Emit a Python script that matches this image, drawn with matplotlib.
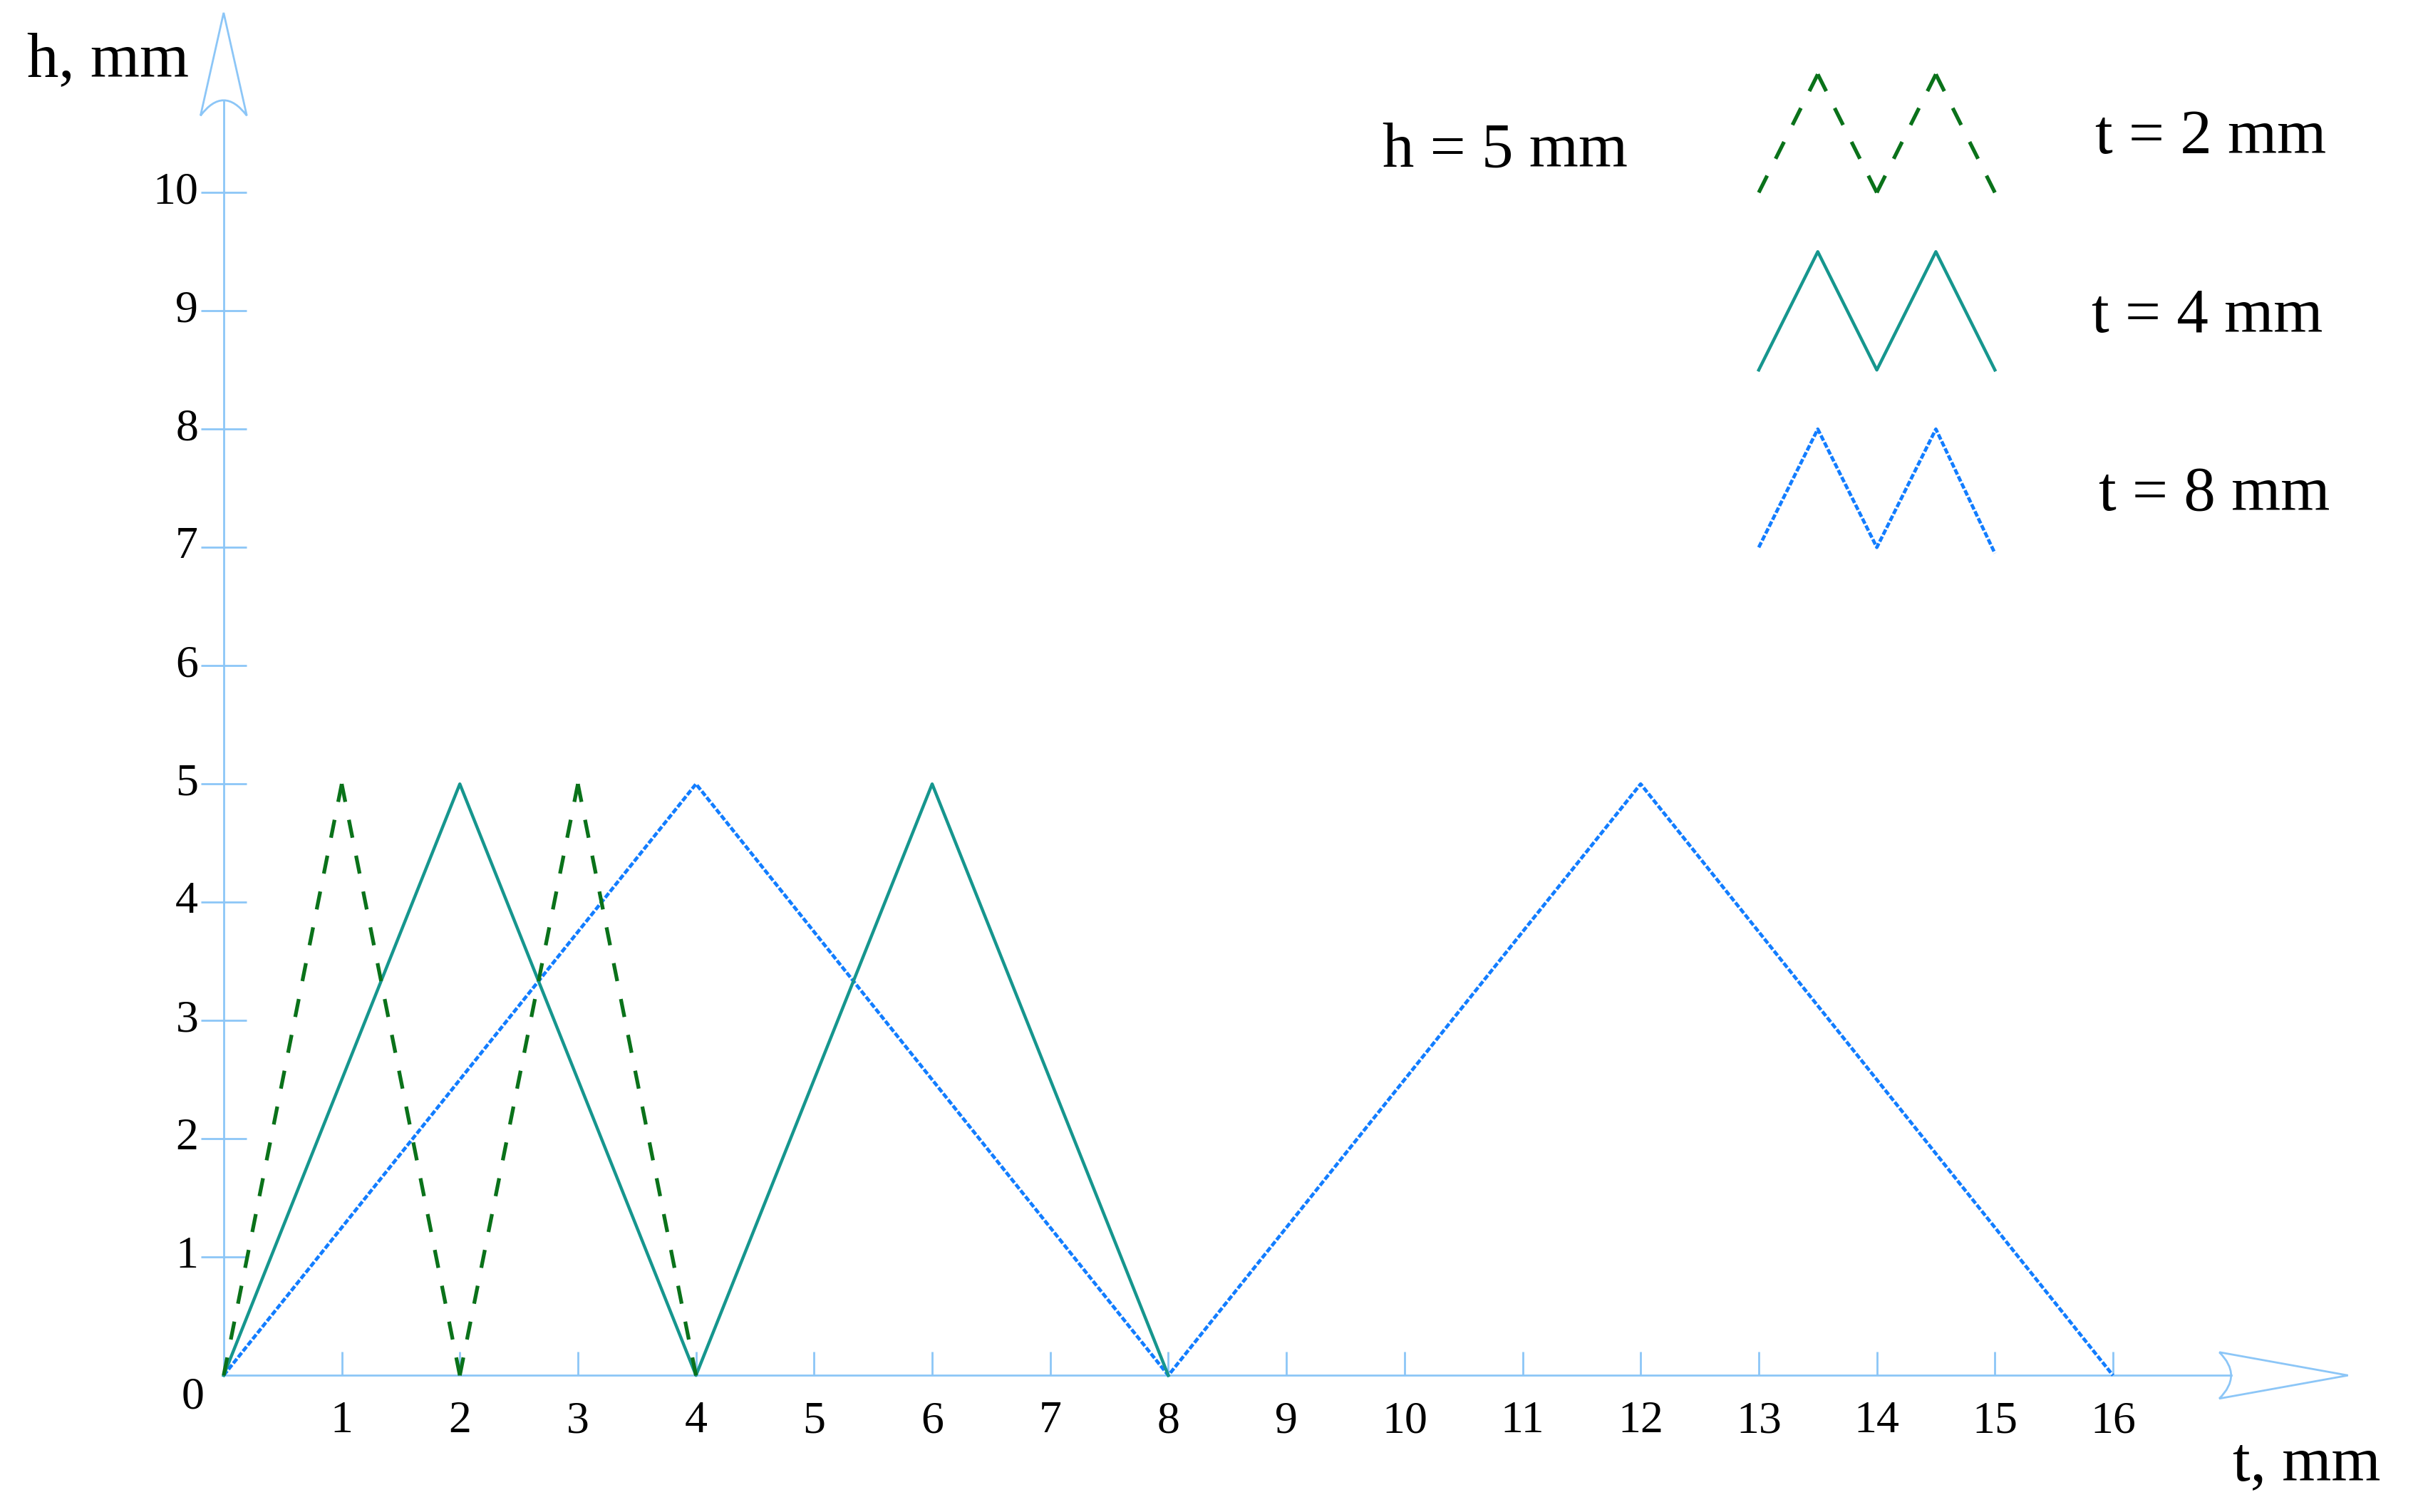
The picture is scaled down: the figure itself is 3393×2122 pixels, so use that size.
#!/usr/bin/env python3
"""
Triangular wave profiles h(t) for three pitch values t = 2, 4, 8 mm
(amplitude h = 5 mm), drawn on hand-made arrowed axes.
"""
import matplotlib.pyplot as plt
from matplotlib.patches import PathPatch
from matplotlib.path import Path

# ─────────────────────────────────────────────
# DATA
# ─────────────────────────────────────────────

T2_X = [0, 1, 2, 3, 4]
T2_Y = [0, 5, 0, 5, 0]

T4_X = [0, 2, 4, 6, 8]
T4_Y = [0, 5, 0, 5, 0]

T8_X = [0, 4, 8, 12, 16]
T8_Y = [0, 5, 0, 5, 0]

X_TICKS = list(range(1, 17))
Y_TICKS = list(range(1, 11))

SERIES_LABELS = ["t = 2 mm", "t = 4 mm", "t = 8 mm"]
AMPLITUDE_LABEL = "h = 5 mm"

# legend zig-zag icons (drawn in data space, top right)
ICON_X = [13, 13.5, 14, 14.5, 15]
ICON_Y_T2 = [10, 11, 10, 11, 10]
ICON_Y_T4 = [8.5, 9.5, 8.5, 9.5, 8.5]
ICON_Y_T8 = [7, 8, 7, 8, 6.95]

# ─────────────────────────────────────────────
# STYLE
# ─────────────────────────────────────────────

DPI = 200
AXIS_COLOR = "#8cc6f7"
C_T2 = "#0a721a"
C_T4 = "#16968e"
C_T8 = "#127dff"

FONT = ["Liberation Serif", "DejaVu Serif"]
plt.rcParams["font.family"] = FONT

T2_LW = 1.9
T2_DASH = 5.0   # dash length (= gap) in linewidth units
STYLE_T4 = dict(color=C_T4, lw=1.6, linestyle="-")
STYLE_T8 = dict(color=C_T8, lw=1.7, linestyle=(0, (1.7, 0.6)))


def dashed_zigzag(ax, xs, ys, color, lw, dash, **kw):
    """Draw each segment on its own, starting and ending with a full dash,
    so every vertex gets the '^' / 'v' corner seen in the original."""
    to_px = ax.transData.transform
    for i in range(len(xs) - 1):
        p0 = to_px((xs[i], ys[i]))
        p1 = to_px((xs[i + 1], ys[i + 1]))
        length_px = ((p1[0] - p0[0]) ** 2 + (p1[1] - p0[1]) ** 2) ** 0.5
        length_u = length_px * 72.0 / DPI / lw
        n = max(1, round((length_u / dash - 1) / 2))
        d = length_u / (2 * n + 1)
        ax.plot(xs[i:i + 2], ys[i:i + 2], color=color, lw=lw,
                linestyle=(0, (d, d)), dash_capstyle="butt", **kw)


def arrow_head(ax, tip, base, half_w, depth, color):
    """Open arrowhead with a concave back, like the original drawing."""
    (tx, ty), (bx, by) = tip, base
    dx, dy = tx - bx, ty - by
    norm = (dx ** 2 + dy ** 2) ** 0.5
    ux, uy = dx / norm, dy / norm
    px, py = -uy, ux
    b1 = (bx + px * half_w, by + py * half_w)
    b2 = (bx - px * half_w, by - py * half_w)
    ctrl = (bx + ux * 2 * depth, by + uy * 2 * depth)
    verts = [b1, (tx, ty), b2, ctrl, b1]
    codes = [Path.MOVETO, Path.LINETO, Path.LINETO, Path.CURVE3, Path.CURVE3]
    ax.add_patch(PathPatch(Path(verts, codes), fill=False, ec=color, lw=1.0,
                           joinstyle="miter"))


def main() -> None:
    fig = plt.figure(figsize=(16.965, 10.61), dpi=DPI)
    ax = fig.add_axes([0, 0, 1, 1])
    ax.set_xlim(-1.894, 18.583)
    ax.set_ylim(-1.155, 11.628)
    ax.axis("off")

    # ── axes with arrows ──────────────────────
    ax.plot([0, 17.0], [0, 0], color=AXIS_COLOR, lw=1.0, zorder=1)
    ax.plot([0, 0], [0, 10.78], color=AXIS_COLOR, lw=1.0, zorder=1)
    arrow_head(ax, tip=(17.99, 0), base=(16.9, 0), half_w=0.196,
               depth=0.1, color=AXIS_COLOR)
    arrow_head(ax, tip=(0, 11.52), base=(0, 10.65), half_w=0.196,
               depth=0.13, color=AXIS_COLOR)

    # ── ticks ────────────────────────────────
    ax.vlines(X_TICKS, 0, 0.2, color=AXIS_COLOR, lw=1.0, zorder=1)
    ax.hlines(Y_TICKS, -0.195, 0.195, color=AXIS_COLOR, lw=1.0, zorder=1)
    for x in X_TICKS:
        ax.text(x, -0.39, str(x), ha="center", va="center", fontsize=23)
    for y in Y_TICKS:
        ax.text(-0.215, y, str(y), ha="right", va="center", fontsize=23)
    ax.text(-0.26, -0.19, "0", ha="center", va="center", fontsize=23)

    ax.text(-0.98, 10.98, "h, mm", ha="center", va="baseline", fontsize=32)
    ax.text(17.64, -0.885, "t, mm", ha="center", va="baseline", fontsize=32)

    # ── profiles ─────────────────────────────
    ax.plot(T8_X, T8_Y, zorder=3, **STYLE_T8)
    ax.plot(T4_X, T4_Y, zorder=4, **STYLE_T4)
    dashed_zigzag(ax, T2_X, T2_Y, C_T2, T2_LW, T2_DASH, zorder=5)

    # ── legend (hand drawn) ──────────────────
    ax.text(10.85, 10.22, AMPLITUDE_LABEL, ha="center", va="baseline",
            fontsize=32)
    dashed_zigzag(ax, ICON_X, ICON_Y_T2, C_T2, T2_LW, T2_DASH)
    ax.plot(ICON_X, ICON_Y_T4, **STYLE_T4)
    ax.plot(ICON_X, ICON_Y_T8, **STYLE_T8)
    label_pos = [(16.83, 10.33), (16.80, 8.82), (16.86, 7.32)]
    for (tx, ty), label in zip(label_pos, SERIES_LABELS):
        ax.text(tx, ty, label, ha="center", va="baseline", fontsize=32)

    fig.savefig("out.png", dpi=DPI)
    plt.close(fig)


if __name__ == "__main__":
    main()
